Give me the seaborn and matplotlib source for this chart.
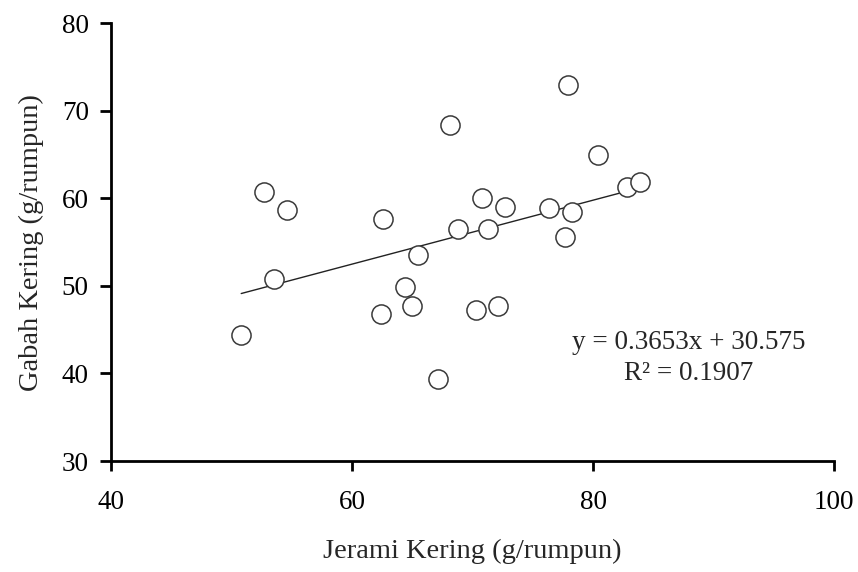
import seaborn as sns
import matplotlib.pyplot as plt
import pandas as pd
import numpy as np

# Data
jerami = [50.8, 52.7, 53.5, 54.6, 62.4, 62.6, 64.4, 65.0, 65.5, 67.15, 68.1, 68.8,
          70.3, 70.8, 71.3, 72.1, 72.7, 76.3, 77.7, 77.9, 78.2, 80.4, 82.8, 83.9]
gabah = [44.4, 60.7, 50.8, 58.7, 46.8, 57.7, 49.9, 47.75, 53.5, 39.4, 68.4, 56.5,
         47.3, 60.0, 56.5, 47.75, 59.0, 58.9, 55.6, 73.0, 58.4, 64.9, 61.3, 61.9]
slope = 0.3653
intercept = 30.575
r2 = 0.1907

df = pd.DataFrame({'jerami': jerami, 'gabah': gabah})

sns.set_style('ticks')
plt.rcParams['font.family'] = ['Liberation Serif', 'DejaVu Serif']

fig = plt.figure(figsize=(8.58, 5.72), dpi=100)
ax = fig.add_axes([0.1294, 0.194, 0.843, 0.7653])

# trend line over the data range
xs = np.array([min(jerami), max(jerami)])
sns.lineplot(x=xs, y=slope * xs + intercept, color='#222222', linewidth=1.0, ax=ax)

sns.scatterplot(data=df, x='jerami', y='gabah', s=190, marker='o',
                facecolor='white', edgecolor='#3a3a3a', linewidth=1.1, ax=ax, zorder=3)

ax.set_xlim(40, 100)
ax.set_ylim(30, 80)
ax.set_xticks([40, 60, 80, 100])
ax.set_yticks([30, 40, 50, 60, 70, 80])

sns.despine(ax=ax)
for s in ['left', 'bottom']:
    ax.spines[s].set_linewidth(2)
    ax.spines[s].set_color('black')
ax.tick_params(axis='x', length=7, width=2, pad=14, labelsize=19.5, colors='black')
ax.tick_params(axis='y', length=8, width=2, pad=8, labelsize=19.5, colors='black')

ax.set_xlabel('Jerami Kering (g/rumpun)', fontsize=20.5, labelpad=17)
ax.set_ylabel('Gabah Kering (g/rumpun)', fontsize=20.5, labelpad=13)

ax.text(87.9, 43.5, f'y = {slope}x + {intercept}', fontsize=19.5, ha='center', va='center')
ax.text(87.9, 40.0, f'R² = {r2}', fontsize=19.5, ha='center', va='center')

plt.savefig('out.png', dpi=100)
